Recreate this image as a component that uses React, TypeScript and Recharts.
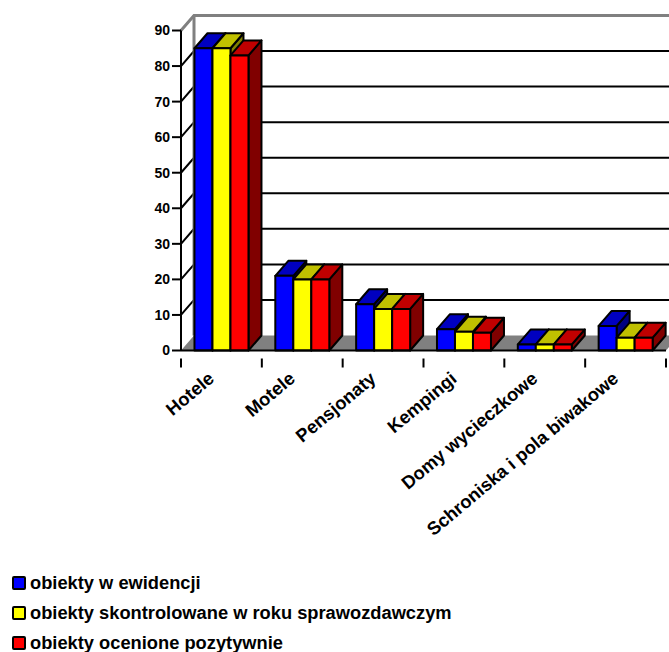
import React from "react";
import { BarChart, Bar, XAxis, YAxis, CartesianGrid, Legend } from "recharts";

const categories = ["Hotele", "Motele", "Pensjonaty", "Kempingi", "Domy wycieczkowe", "Schroniska i pola biwakowe"];
const registered = [85, 21, 13, 6, 1.7, 6.9];
const inspected = [85, 20, 11.7, 5.3, 1.7, 3.6];
const approved = [83, 20, 11.7, 5, 1.7, 3.6];
const yTicks = [0, 10, 20, 30, 40, 50, 60, 70, 80, 90];

const seriesNames = ["obiekty w ewidencji", "obiekty skontrolowane w roku sprawozdawczym", "obiekty ocenione pozytywnie"];
const fronts = ["#0000ff", "#ffff00", "#ff0000"];
const tops = ["#0000c0", "#c0c000", "#c00000"];
const sides = ["#000080", "#808000", "#800000"];

const rows = categories.map((name, i) => ({ name, registered: registered[i], inspected: inspected[i], approved: approved[i] }));

const FONT = "'Liberation Sans', Arial, sans-serif";
const DX = 13;
const DY = 15;
const WALL = "#808080";
const MARGIN = { top: 30.5, right: 3, bottom: 0, left: 131 };
const AXIS_HEIGHT = 301.5;
const CHART_HEIGHT = 652;
const BAND = 485 / categories.length;

// Extruded bar: front face, top face and right side, outlined in black.
const boxShape = (series: number) => (props: any) => {
  const { x, y, width, height } = props;
  const common = { stroke: "#000", strokeWidth: 2, strokeLinejoin: "round" as const };
  return (
    <g>
      <polygon points={`${x + width},${y} ${x + width + DX},${y - DY} ${x + width + DX},${y + height - DY} ${x + width},${y + height}`} fill={sides[series]} {...common} />
      <polygon points={`${x},${y} ${x + DX},${y - DY} ${x + width + DX},${y - DY} ${x + width},${y}`} fill={tops[series]} {...common} />
      <rect x={x} y={y} width={width} height={height} fill={fronts[series]} {...common} />
    </g>
  );
};

// Back wall, side wall and floor, derived from each horizontal grid position.
const wallLine = (props: any) => {
  const { x1, x2, y1 } = props;
  const plotBottom = CHART_HEIGHT - AXIS_HEIGHT;
  if (y1 >= plotBottom - 1) {
    return (
      <polygon key="floor" points={`${x1},${y1} ${x1 + DX},${y1 - DY} ${x2 + DX},${y1 - DY} ${x2},${y1}`} fill={WALL} stroke="none" />
    );
  }
  if (y1 <= MARGIN.top + 1) {
    return (
      <g key="ceiling" stroke={WALL} strokeWidth={3} fill="none">
        <polyline points={`${x1},${y1} ${x1 + DX},${y1 - DY} ${x2 + DX},${y1 - DY}`} />
        <line x1={x1 + DX} y1={y1 - DY} x2={x1 + DX} y2={plotBottom - DY} />
      </g>
    );
  }
  return (
    <polyline key={`wall-${y1}`} points={`${x1},${y1} ${x1 + DX},${y1 - DY} ${x2 + DX},${y1 - DY}`} stroke="#000" strokeWidth={2} fill="none" />
  );
};

const CategoryTick = (props: any) => {
  const { x, y, payload, index } = props;
  const left = x - BAND / 2;
  const right = x + BAND / 2;
  const tx = x - 6;
  const ty = y + 22;
  return (
    <g>
      <line x1={left} y1={y} x2={left} y2={y + 9} stroke="#000" strokeWidth={2} />
      {index === categories.length - 1 && <line x1={right} y1={y} x2={right} y2={y + 9} stroke="#000" strokeWidth={2} />}
      <text
        x={tx}
        y={ty}
        transform={`rotate(-40 ${tx} ${ty})`}
        textAnchor="end"
        fontFamily={FONT}
        fontWeight="bold"
        fontSize={18.3}
        fill="#000"
      >
        {payload.value}
      </text>
    </g>
  );
};

const LegendList = ({ payload }: any) => (
  <div style={{ position: "absolute", left: 12, top: 568, fontFamily: FONT, fontWeight: "bold", fontSize: 18.3, color: "#000" }}>
    {(payload ?? []).map((entry: any) => (
      <div key={entry.value} style={{ display: "flex", alignItems: "center", height: 30, whiteSpace: "nowrap" }}>
        <span style={{ width: 10, height: 10, background: entry.color, border: "2px solid #000", borderRadius: 2, marginRight: 4, display: "inline-block" }} />
        {entry.value}
      </div>
    ))}
  </div>
);

export default function App() {
  return (
    <div style={{ position: "absolute", left: 0, top: 0, width: 669, height: CHART_HEIGHT, overflow: "hidden", background: "#fff" }}>
      <BarChart
        width={669}
        height={CHART_HEIGHT}
        data={rows}
        margin={MARGIN}
        barCategoryGap="16.67%"
        barGap={0}
      >
        <CartesianGrid vertical={false} horizontal={wallLine} />
        <XAxis dataKey="name" height={AXIS_HEIGHT} interval={0} tickLine={false} axisLine={{ stroke: "#000", strokeWidth: 2 }} tick={<CategoryTick />} />
        <YAxis
          width={50}
          domain={[0, 90]}
          ticks={yTicks}
          interval={0}
          axisLine={{ stroke: "#000", strokeWidth: 2 }}
          tickLine={{ stroke: "#000", strokeWidth: 2 }}
          tickSize={9}
          tickMargin={2}
          tick={{ fontFamily: FONT, fontWeight: "bold", fontSize: 14, fill: "#000" }}
        />
        <Legend content={<LegendList />} itemSorter={null} wrapperStyle={{ left: 0, top: 0, bottom: "auto", width: 0, height: 0 }} />
        <Bar dataKey="registered" name={seriesNames[0]} fill={fronts[0]} shape={boxShape(0)} isAnimationActive={false} />
        <Bar dataKey="inspected" name={seriesNames[1]} fill={fronts[1]} shape={boxShape(1)} isAnimationActive={false} />
        <Bar dataKey="approved" name={seriesNames[2]} fill={fronts[2]} shape={boxShape(2)} isAnimationActive={false} />
      </BarChart>
    </div>
  );
}
